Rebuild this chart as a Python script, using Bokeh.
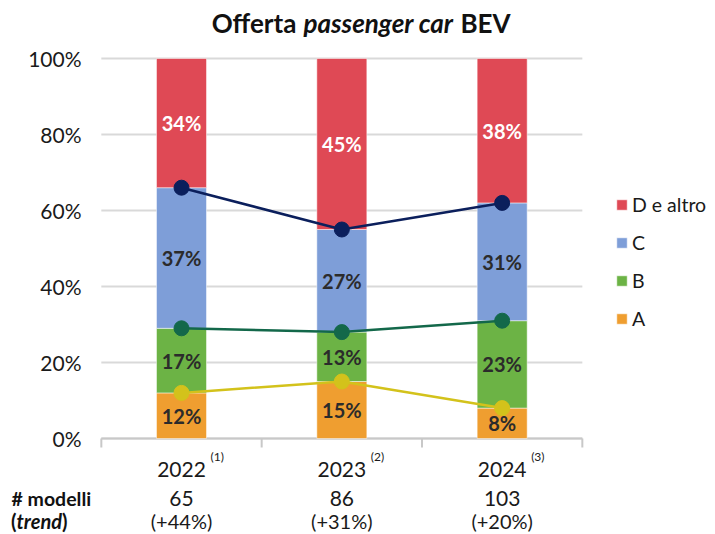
import numpy as np
from bokeh.plotting import figure
from bokeh.models import Range1d, Legend, LegendItem
from bokeh.core.properties import value
from bokeh.embed import file_html
from bokeh.resources import INLINE

years = ["2022", "2023", "2024"]
notes = ["(1)", "(2)", "(3)"]
models = ["65", "86", "103"]
trends = ["(+44%)", "(+31%)", "(+20%)"]
seg_names = ["A", "B", "C", "D e altro"]
A = [12, 15, 8]
B = [17, 13, 23]
C = [37, 27, 31]
D = [34, 45, 38]
yticks = [0, 20, 40, 60, 80, 100]

FONT = "Lato"
colors = ["#EF9E30", "#6CB345", "#7E9ED8", "#DF4955"]
line_colors = ["#D3C21B", "#13684A", "#0B1F5C"]
label_colors = ["#2B2B2B", "#2B2B2B", "#2B2B2B", "#FFFFFF"]
TXT = "#1A1A1A"

W, H = 715, 534
# layout of the chart area inside the canvas (pixels)
cat0_px, cat_step_px = 181.0, 481.0 / 3.0
base_px, unit_px = 438.0, 3.8

xs = list(range(len(years)))
data = np.array([A, B, C, D], dtype=float)
tops = np.cumsum(data, axis=0)
bottoms = tops - data

x_range = Range1d(-cat0_px / cat_step_px, (W - cat0_px) / cat_step_px)
y_range = Range1d(-(H - base_px) / unit_px, base_px / unit_px)

p = figure(width=W, height=H, frame_width=W, frame_height=H, min_border=0,
           x_range=x_range, y_range=y_range, x_axis_location=None, y_axis_location=None,
           output_backend="svg", toolbar_location=None, tools="")
p.outline_line_color = None
p.grid.visible = False
p.background_fill_color = "white"
p.border_fill_color = "white"

def xd(px):
    return (px - cat0_px) / cat_step_px
def yd(py):
    return (base_px - py) / unit_px

x_lo, x_hi = -0.5, len(years) - 0.5

# gridlines
p.segment(x0=[x_lo] * len(yticks), x1=[x_hi] * len(yticks), y0=yticks, y1=yticks,
          line_color="#D9D9D9", line_width=2)
# bottom axis line + category separators
p.segment(x0=[x_lo], x1=[x_hi], y0=[0], y1=[0], line_color="#C8C8C8", line_width=2)
seps = [x_lo + i for i in range(len(years) + 1)]
p.segment(x0=seps, x1=seps, y0=[0] * len(seps), y1=[-9 / unit_px] * len(seps),
          line_color="#C8C8C8", line_width=2)
# y tick labels
p.text(x=[xd(81)] * len(yticks), y=yticks, text=[f"{t}%" for t in yticks],
       text_font=value(FONT), text_font_size="21px", text_color=TXT,
       text_align="right", text_baseline="middle")

# bars
bar_renderers = []
for i, name in enumerate(seg_names):
    r = p.vbar(x=xs, bottom=bottoms[i].tolist(), top=tops[i].tolist(), width=0.312,
               fill_color=colors[i], line_color="white", line_width=0.5)
    bar_renderers.append(r)

# lines with markers on cumulative tops
for i in range(3):
    p.line(xs, tops[i].tolist(), line_color=line_colors[i], line_width=2.5)
    p.scatter(xs, tops[i].tolist(), size=15, fill_color=line_colors[i], line_color=line_colors[i])

# data labels
for i, name in enumerate(seg_names):
    mids = ((bottoms[i] + tops[i]) / 2).tolist()
    lbl = [f"{int(v)}%" for v in data[i]]
    p.text(xs, mids, text=lbl, text_font=value(FONT), text_font_size="20px",
           text_font_style="bold", text_color=label_colors[i],
           text_align="center", text_baseline="middle")

# legend (location = bottom-left corner, measured from the canvas bottom-left)
items = [LegendItem(label=seg_names[i], renderers=[bar_renderers[i]]) for i in reversed(range(4))]
legend = Legend(items=items, location=(615, H - 330), padding=0, margin=0, border_line_color=None,
                background_fill_alpha=0, glyph_width=13, glyph_height=13, label_height=20,
                spacing=15, label_standoff=4, label_text_font=FONT, label_text_font_size="19.5px",
                label_text_color=TXT)
p.add_layout(legend, "center")

# title
title_parts = [("Offerta", "bold", 253.5), ("passenger car", "bold italic", 378), ("BEV", "bold", 485)]
for txt, style, cx in title_parts:
    p.text(x=[xd(cx)], y=[yd(22)], text=[txt], text_font=value(FONT), text_font_size="26px",
           text_font_style=style, text_color="#111111", text_align="center", text_baseline="middle")

# category rows below
p.text(x=xs, y=[yd(469)] * 3, text=years, text_font=value(FONT), text_font_size="21px",
       text_color=TXT, text_align="center", text_baseline="middle")
p.text(x=[x + xd(210) for x in xs], y=[yd(456)] * 3, text=notes, text_font=value(FONT),
       text_font_size="12px", text_color=TXT, text_align="left", text_baseline="middle")
p.text(x=xs, y=[yd(498)] * 3, text=models, text_font=value(FONT), text_font_size="21px",
       text_color=TXT, text_align="center", text_baseline="middle")
p.text(x=xs, y=[yd(520)] * 3, text=trends, text_font=value(FONT), text_font_size="20px",
       text_color=TXT, text_align="center", text_baseline="middle")

p.text(x=[xd(11)], y=[yd(498)], text=["# modelli"], text_font=value(FONT), text_font_size="19.5px",
       text_font_style="bold", text_color="#111111", text_align="left", text_baseline="middle")
p.text(x=[xd(16)], y=[yd(520)], text=["("], text_font=value(FONT), text_font_size="20px",
       text_font_style="bold", text_color="#111111", text_align="right", text_baseline="middle")
p.text(x=[xd(16)], y=[yd(520)], text=["trend"], text_font=value(FONT), text_font_size="20px",
       text_font_style="bold italic", text_color="#111111", text_align="left", text_baseline="middle")
p.text(x=[xd(61.5)], y=[yd(520)], text=[")"], text_font=value(FONT), text_font_size="20px",
       text_font_style="bold", text_color="#111111", text_align="left", text_baseline="middle")

open("out.html", "w").write(file_html(p, INLINE))
